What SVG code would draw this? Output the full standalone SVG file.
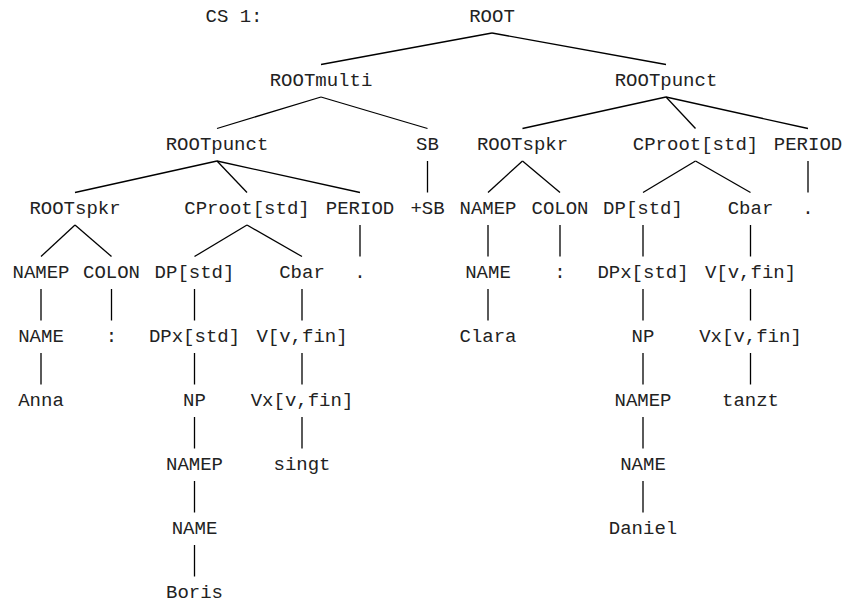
<svg xmlns="http://www.w3.org/2000/svg" width="845" height="603" viewBox="0 0 845 603">
<style>
text{font-family:"Courier New","Liberation Mono",monospace;font-size:19px;fill:#222;text-anchor:middle}
.e line{stroke:#000;stroke-width:1.3}
</style>
<rect width="845" height="603" fill="#fff"/>
<text x="205.5" y="22" style="text-anchor:start">CS 1:</text>
<g class="e" id="connectors">
<line x1="492" y1="33" x2="321" y2="64.5"/>
<line x1="492" y1="33" x2="666" y2="64.5"/>
<line x1="321" y1="97" x2="217" y2="128.5"/>
<line x1="321" y1="97" x2="427.5" y2="128.5"/>
<line x1="666" y1="97" x2="522.5" y2="128.5"/>
<line x1="666" y1="97" x2="695.5" y2="128.5"/>
<line x1="666" y1="97" x2="808" y2="128.5"/>
<line x1="217" y1="161" x2="75" y2="192.5"/>
<line x1="217" y1="161" x2="247" y2="192.5"/>
<line x1="217" y1="161" x2="360" y2="192.5"/>
<line x1="427.5" y1="161" x2="427.5" y2="192.5"/>
<line x1="522.5" y1="161" x2="488" y2="192.5"/>
<line x1="522.5" y1="161" x2="560" y2="192.5"/>
<line x1="695.5" y1="161" x2="643" y2="192.5"/>
<line x1="695.5" y1="161" x2="750.5" y2="192.5"/>
<line x1="808" y1="161" x2="808" y2="192.5"/>
<line x1="75" y1="225" x2="41" y2="256.5"/>
<line x1="75" y1="225" x2="111.5" y2="256.5"/>
<line x1="247" y1="225" x2="194.5" y2="256.5"/>
<line x1="247" y1="225" x2="302" y2="256.5"/>
<line x1="360" y1="225" x2="360" y2="256.5"/>
<line x1="41" y1="289" x2="41" y2="320.5"/>
<line x1="41" y1="353" x2="41" y2="384.5"/>
<line x1="111.5" y1="289" x2="111.5" y2="320.5"/>
<line x1="194.5" y1="289" x2="194.5" y2="320.5"/>
<line x1="194.5" y1="353" x2="194.5" y2="384.5"/>
<line x1="194.5" y1="417" x2="194.5" y2="448.5"/>
<line x1="194.5" y1="481" x2="194.5" y2="512.5"/>
<line x1="194.5" y1="545" x2="194.5" y2="576.5"/>
<line x1="302" y1="289" x2="302" y2="320.5"/>
<line x1="302" y1="353" x2="302" y2="384.5"/>
<line x1="302" y1="417" x2="302" y2="448.5"/>
<line x1="488" y1="225" x2="488" y2="256.5"/>
<line x1="488" y1="289" x2="488" y2="320.5"/>
<line x1="560" y1="225" x2="560" y2="256.5"/>
<line x1="643" y1="225" x2="643" y2="256.5"/>
<line x1="643" y1="289" x2="643" y2="320.5"/>
<line x1="643" y1="353" x2="643" y2="384.5"/>
<line x1="643" y1="417" x2="643" y2="448.5"/>
<line x1="643" y1="481" x2="643" y2="512.5"/>
<line x1="750.5" y1="225" x2="750.5" y2="256.5"/>
<line x1="750.5" y1="289" x2="750.5" y2="320.5"/>
<line x1="750.5" y1="353" x2="750.5" y2="384.5"/>
</g>
<g id="n-root"><text x="492" y="21.5">ROOT</text></g>
<g id="n-rootmulti"><text x="321" y="85.5">ROOTmulti</text></g>
<g id="n-rootpunct-r"><text x="666" y="85.5">ROOTpunct</text></g>
<g id="n-rootpunct-l"><text x="217" y="149.5">ROOTpunct</text></g>
<g id="n-sb"><text x="427.5" y="149.5">SB</text></g>
<g id="n-rootspkr-r"><text x="522.5" y="149.5">ROOTspkr</text></g>
<g id="n-cproot-r"><text x="695.5" y="149.5">CProot[std]</text></g>
<g id="n-period-r"><text x="808" y="149.5">PERIOD</text></g>
<g id="n-rootspkr-l"><text x="75" y="213.5">ROOTspkr</text></g>
<g id="n-cproot-l"><text x="247" y="213.5">CProot[std]</text></g>
<g id="n-period-l"><text x="360" y="213.5">PERIOD</text></g>
<g id="n-plussb"><text x="427.5" y="213.5">+SB</text></g>
<g id="n-namep-r"><text x="488" y="213.5">NAMEP</text></g>
<g id="n-colon-r"><text x="560" y="213.5">COLON</text></g>
<g id="n-dp-r"><text x="643" y="213.5">DP[std]</text></g>
<g id="n-cbar-r"><text x="750.5" y="213.5">Cbar</text></g>
<g id="n-dot-r"><text x="808" y="213.5">.</text></g>
<g id="n-namep-l"><text x="41" y="277.5">NAMEP</text></g>
<g id="n-colon-l"><text x="111.5" y="277.5">COLON</text></g>
<g id="n-dp-l"><text x="194.5" y="277.5">DP[std]</text></g>
<g id="n-cbar-l"><text x="302" y="277.5">Cbar</text></g>
<g id="n-dot-l"><text x="360" y="277.5">.</text></g>
<g id="n-name-r"><text x="488" y="277.5">NAME</text></g>
<g id="n-colonchar-r"><text x="560" y="277.5">:</text></g>
<g id="n-dpx-r"><text x="643" y="277.5">DPx[std]</text></g>
<g id="n-v-r"><text x="750.5" y="277.5">V[v,fin]</text></g>
<g id="n-name-l"><text x="41" y="341.5">NAME</text></g>
<g id="n-colonchar-l"><text x="111.5" y="341.5">:</text></g>
<g id="n-dpx-l"><text x="194.5" y="341.5">DPx[std]</text></g>
<g id="n-v-l"><text x="302" y="341.5">V[v,fin]</text></g>
<g id="n-clara"><text x="488" y="341.5">Clara</text></g>
<g id="n-np-r"><text x="643" y="341.5">NP</text></g>
<g id="n-vx-r"><text x="750.5" y="341.5">Vx[v,fin]</text></g>
<g id="n-anna"><text x="41" y="405.5">Anna</text></g>
<g id="n-np-l"><text x="194.5" y="405.5">NP</text></g>
<g id="n-vx-l"><text x="302" y="405.5">Vx[v,fin]</text></g>
<g id="n-namep2-r"><text x="643" y="405.5">NAMEP</text></g>
<g id="n-tanzt"><text x="750.5" y="405.5">tanzt</text></g>
<g id="n-namep2-l"><text x="194.5" y="469.5">NAMEP</text></g>
<g id="n-singt"><text x="302" y="469.5">singt</text></g>
<g id="n-name2-r"><text x="643" y="469.5">NAME</text></g>
<g id="n-daniel"><text x="643" y="533.5">Daniel</text></g>
<g id="n-name2-l"><text x="194.5" y="533.5">NAME</text></g>
<g id="n-boris"><text x="194.5" y="597.5">Boris</text></g>
</svg>
